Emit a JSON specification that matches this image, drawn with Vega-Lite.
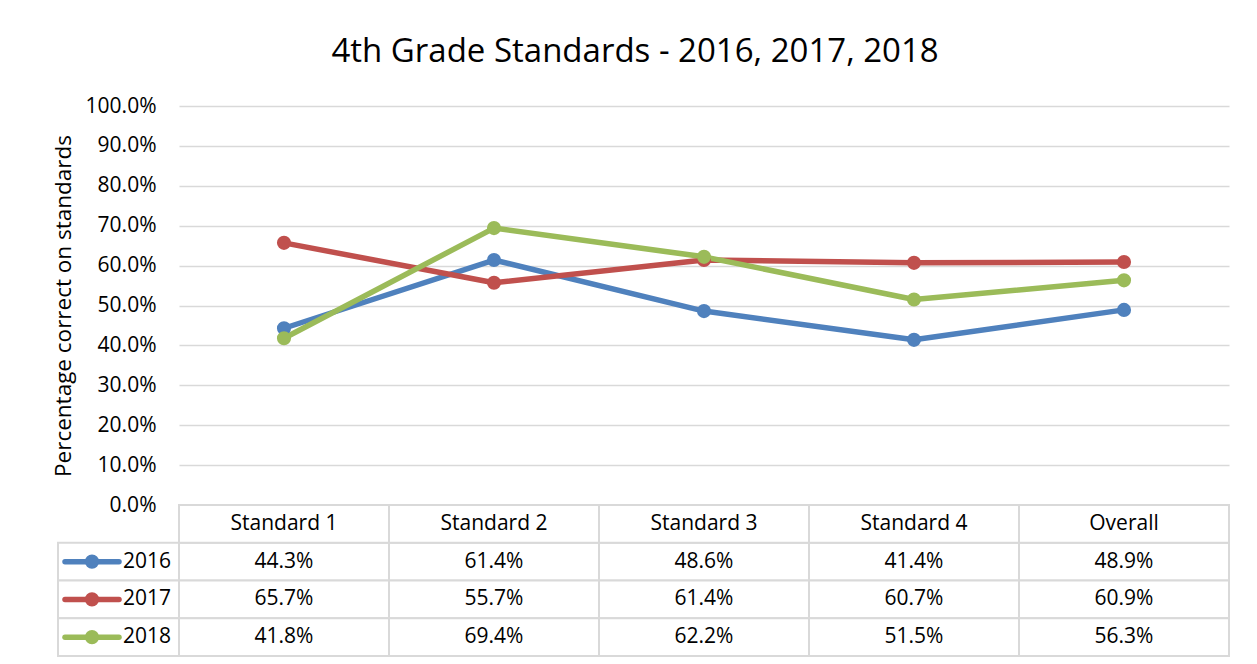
{
  "$schema": "https://vega.github.io/schema/vega-lite/v6.json",
  "padding": {"left": 52, "top": 36, "right": 30, "bottom": 10},
  "background": "white",
  "title": {"text": "4th Grade Standards - 2016, 2017, 2018", "font": "Open Sans", "fontSize": 33, "fontWeight": "normal", "color": "#000000", "anchor": "middle", "offset": 26, "dx": -6},
  "config": {
    "font": "Open Sans",
    "view": {"stroke": null},
    "text": {"font": "Open Sans", "fontSize": 21, "color": "#000000"}
  },
  "datasets": {
    "scores": [
      {"category": "Standard 1", "year": "2016", "value": 0.443},
      {"category": "Standard 2", "year": "2016", "value": 0.614},
      {"category": "Standard 3", "year": "2016", "value": 0.486},
      {"category": "Standard 4", "year": "2016", "value": 0.414},
      {"category": "Overall", "year": "2016", "value": 0.489},
      {"category": "Standard 1", "year": "2017", "value": 0.657},
      {"category": "Standard 2", "year": "2017", "value": 0.557},
      {"category": "Standard 3", "year": "2017", "value": 0.614},
      {"category": "Standard 4", "year": "2017", "value": 0.607},
      {"category": "Overall", "year": "2017", "value": 0.609},
      {"category": "Standard 1", "year": "2018", "value": 0.418},
      {"category": "Standard 2", "year": "2018", "value": 0.694},
      {"category": "Standard 3", "year": "2018", "value": 0.622},
      {"category": "Standard 4", "year": "2018", "value": 0.515},
      {"category": "Overall", "year": "2018", "value": 0.563}
    ]
  },
  "columns": 2,
  "spacing": 0,
  "bounds": "flush",
  "resolve": {"scale": {"x": "independent", "y": "independent"}},
  "concat": [
    {
      "width": 121,
      "height": 399,
      "data": {"name": "scores"},
      "mark": {"type": "rect", "opacity": 0},
      "encoding": {}
    },
    {
      "width": 1050,
      "height": 399,
      "data": {"name": "scores"},
      "encoding": {
        "x": {"field": "category", "type": "nominal", "sort": ["Standard 1", "Standard 2", "Standard 3", "Standard 4", "Overall"], "scale": {"type": "point", "padding": 0.5}, "axis": null},
        "y": {"field": "value", "type": "quantitative", "scale": {"domain": [0, 1], "nice": false},
          "axis": {"format": ".1%", "values": [0, 0.1, 0.2, 0.3, 0.4, 0.5, 0.6, 0.7, 0.8, 0.9, 1.0], "title": "Percentage correct on standards",
            "domain": false, "ticks": false, "labelPadding": 23, "labelFontSize": 21, "labelFont": "Open Sans", "labelColor": "#000000",
            "titleFontSize": 22.5, "titleFont": "Open Sans", "titleFontWeight": "normal", "titleColor": "#000000", "titlePadding": 10,
            "grid": true, "gridColor": "#d9d9d9", "gridWidth": 1.5}},
        "color": {"field": "year", "type": "nominal", "scale": {"domain": ["2016", "2017", "2018"], "range": ["#4f81bd", "#c0504d", "#9bbb59"]}, "legend": null}
      },
      "layer": [
        {"mark": {"type": "line", "strokeWidth": 5.5, "strokeCap": "round", "strokeJoin": "round"}},
        {"mark": {"type": "point", "filled": true, "size": 200, "opacity": 1}}
      ]
    },
    {
      "width": 121,
      "height": 151,
      "data": {"name": "scores"},
      "transform": [{"filter": "datum.category === 'Standard 1'"}],
      "encoding": {
        "y": {"field": "year", "type": "nominal", "scale": {"domain": ["hdr", "2016", "2017", "2018"], "paddingInner": 0, "paddingOuter": 0}, "axis": null}
      },
      "layer": [
        {"mark": {"type": "rect", "fill": "white", "stroke": "#d9d9d9", "strokeWidth": 2}},
        {"mark": {"type": "rule", "strokeWidth": 5.5, "strokeCap": "round"},
          "encoding": {
            "x": {"datum": 7, "type": "quantitative", "scale": {"domain": [0, 121]}, "axis": null},
            "x2": {"datum": 61},
            "color": {"field": "year", "type": "nominal", "legend": null}
          }},
        {"mark": {"type": "point", "filled": true, "size": 200, "opacity": 1},
          "encoding": {
            "x": {"datum": 34, "type": "quantitative", "scale": {"domain": [0, 121]}, "axis": null},
            "color": {"field": "year", "type": "nominal", "legend": null}
          }},
        {"mark": {"type": "text", "align": "left", "baseline": "middle", "fontSize": 21},
          "encoding": {
            "x": {"datum": 65, "type": "quantitative", "scale": {"domain": [0, 121]}, "axis": null},
            "text": {"field": "year"}
          }}
      ]
    },
    {
      "width": 1050,
      "height": 151,
      "data": {"name": "scores"},
      "encoding": {
        "x": {"field": "category", "type": "nominal", "sort": ["Standard 1", "Standard 2", "Standard 3", "Standard 4", "Overall"], "scale": {"type": "band", "paddingInner": 0, "paddingOuter": 0}, "axis": null}
      },
      "layer": [
        {"mark": {"type": "rect", "fill": "white", "stroke": "#d9d9d9", "strokeWidth": 2},
          "encoding": {
            "y": {"field": "year", "type": "nominal", "scale": {"domain": ["hdr", "2016", "2017", "2018"], "paddingInner": 0, "paddingOuter": 0}, "axis": null}
          }},
        {"transform": [{"filter": "datum.year === '2016'"}],
          "mark": {"type": "rect", "fill": "white", "stroke": "#d9d9d9", "strokeWidth": 2},
          "encoding": {
            "y": {"datum": "hdr", "type": "nominal"}
          }},
        {"mark": {"type": "text", "align": "center", "baseline": "middle", "fontSize": 21},
          "encoding": {
            "y": {"field": "year", "type": "nominal"},
            "text": {"field": "value", "type": "quantitative", "format": ".1%"}
          }},
        {"transform": [{"filter": "datum.year === '2016'"}],
          "mark": {"type": "text", "align": "center", "baseline": "middle", "fontSize": 21},
          "encoding": {
            "y": {"datum": "hdr", "type": "nominal"},
            "text": {"field": "category"}
          }}
      ]
    }
  ]
}
